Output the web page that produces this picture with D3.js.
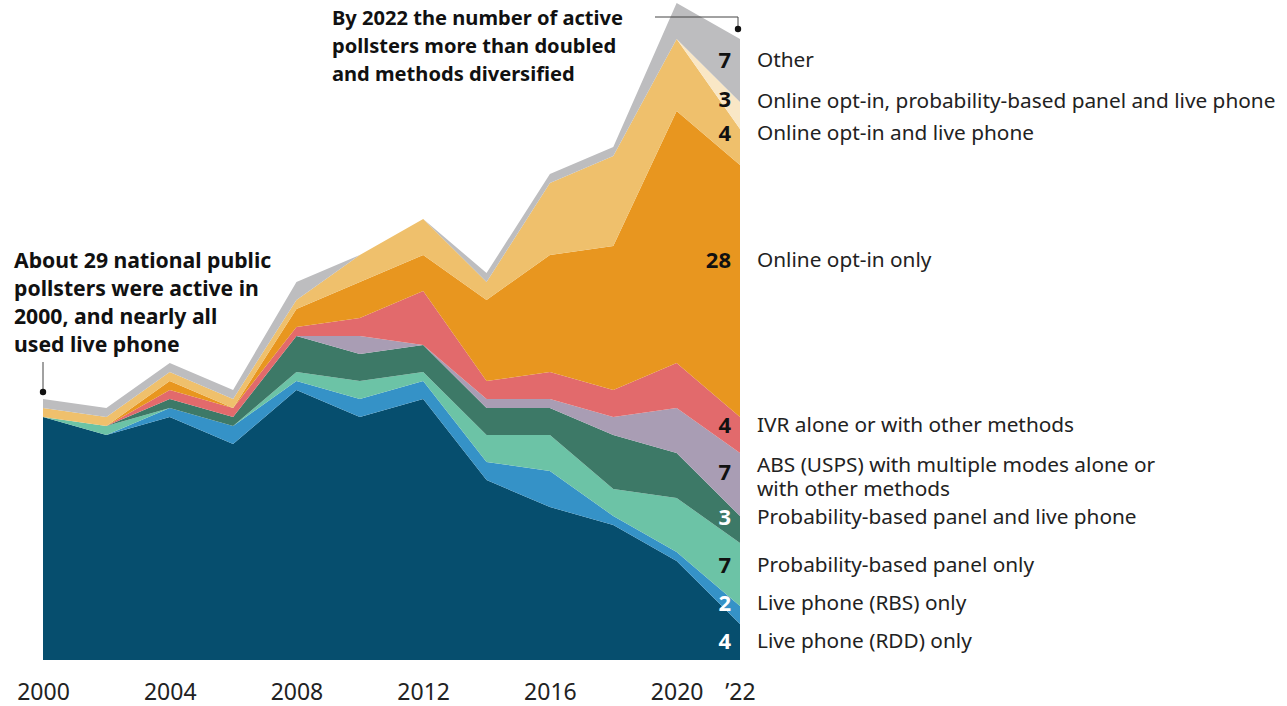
<!DOCTYPE html>
<html>
<head>
<meta charset="utf-8">
<script src="https://cdn.jsdelivr.net/npm/d3@7"></script>
<style>
  body { margin: 0; background: #fff; }
  text { font-family: 'Noto Sans', Roboto, sans-serif; }
</style>
</head>
<body>
<div class="canvas"></div>
<script>
'use strict';

const years = [2000, 2002, 2004, 2006, 2008, 2010, 2012, 2014, 2016, 2018, 2020, 2022];

// pollster counts by method, bottom layer first
const liveRDD       = [27, 25, 27, 24, 30, 27, 29, 20, 17, 15, 11, 4];
const liveRBS       = [0, 0, 1, 2, 1, 2, 2, 2, 4, 1, 1, 2];
const probPanel     = [0, 1, 0, 0, 1, 2, 1, 3, 4, 3, 6, 7];
const probPanelLive = [0, 0, 1, 1, 4, 3, 3, 3, 3, 6, 5, 3];
const absMulti      = [0, 0, 0, 0, 0, 2, 0, 1, 1, 2, 5, 7];
const ivr           = [0, 0, 1, 1, 1, 2, 6, 2, 3, 3, 5, 4];
const onlineOptIn   = [0, 0, 1, 0, 2, 4, 4, 9, 13, 16, 28, 28];
const optInLive     = [1, 1, 1, 1, 1, 3, 4, 2, 8, 10, 8, 4];
const optInProbLive = [0, 0, 0, 0, 0, 0, 0, 0, 0, 0, 0, 3];
const other         = [1, 1, 1, 1, 2, 0, 0, 1, 1, 1, 4, 7];

const tickYears = [2000, 2004, 2008, 2012, 2016, 2020, 2022];
const tickLabels = ['2000', '2004', '2008', '2012', '2016', '2020', '\u201922'];

const series = [
  { key: 'rdd', values: liveRDD, label: ['Live phone (RDD) only'], color: '#064e6e', num: '#fff' },
  { key: 'rbs', values: liveRBS, label: ['Live phone (RBS) only'], color: '#3592c7', num: '#fff' },
  { key: 'pp', values: probPanel, label: ['Probability-based panel only'], color: '#6cc3a6', num: '#111' },
  { key: 'ppl', values: probPanelLive, label: ['Probability-based panel and live phone'], color: '#3d7967', num: '#fff' },
  { key: 'abs', values: absMulti, label: ['ABS (USPS) with multiple modes alone or', 'with other methods'], color: '#a99db4', num: '#111' },
  { key: 'ivr', values: ivr, label: ['IVR alone or with other methods'], color: '#e26a6c', num: '#111' },
  { key: 'opt', values: onlineOptIn, label: ['Online opt-in only'], color: '#e8961f', num: '#111' },
  { key: 'optl', values: optInLive, label: ['Online opt-in and live phone'], color: '#efc06c', num: '#111' },
  { key: 'optpl', values: optInProbLive, label: ['Online opt-in, probability-based panel and live phone'], color: '#f9e7c6', num: '#111' },
  { key: 'other', values: other, label: ['Other'], color: '#bdbdbf', num: '#111' }
];

// label rows on the right (pixel y of the first line), bottom series first
const labelY = [641, 603, 565, 517, 465, 425, 260, 133, 101, 60];
const numberY = [641, 603, 565, 517, 472, 425, 260, 133, 99, 60];

const width = 1287;
const height = 706;

const svg = d3
  .select('.canvas')
  .append('svg')
  .attr('width', width)
  .attr('height', height);

const x = d3.scaleLinear().domain([2000, 2022]).range([43, 740]);
const y = d3.scaleLinear().domain([0, 69]).range([660, 39]);

const rows = years.map((yr, i) => {
  const row = { year: yr };
  series.forEach(s => (row[s.key] = s.values[i]));
  return row;
});

const stack = d3.stack().keys(series.map(s => s.key));
const layers = stack(rows);

const area = d3
  .area()
  .x(d => x(d.data.year))
  .y0(d => y(d[0]))
  .y1(d => y(d[1]));

svg
  .append('g')
  .selectAll('path')
  .data(layers)
  .enter()
  .append('path')
  .attr('d', area)
  .attr('fill', (d, i) => series[i].color);

// x axis labels
const xAxis = d3
  .axisBottom(x)
  .tickValues(tickYears)
  .tickSize(0)
  .tickPadding(0)
  .tickFormat((d, i) => tickLabels[i]);

const xAxisGroup = svg
  .append('g')
  .attr('transform', `translate(0, ${y(0)})`)
  .call(xAxis);
xAxisGroup.select('.domain').remove();
xAxisGroup
  .selectAll('text')
  .attr('y', 40)
  .attr('dy', 0)
  .attr('fill', '#222')
  .style('font-size', '23px')
  .style('font-family', "'Noto Sans', sans-serif");

// right side: end values and category names
const last = years.length - 1;
const labels = svg.append('g');

series.forEach((s, i) => {
  labels
    .append('text')
    .attr('x', 731)
    .attr('y', numberY[i])
    .attr('dy', '0.35em')
    .attr('text-anchor', 'end')
    .attr('fill', s.num)
    .style('font-size', '22px')
    .style('font-weight', 'bold')
    .text(s.values[last]);

  const t = labels
    .append('text')
    .attr('x', 757)
    .attr('y', labelY[i])
    .attr('fill', '#222')
    .style('font-size', '20.8px');
  s.label.forEach((line, j) => {
    t.append('tspan')
      .attr('x', 757)
      .attr('dy', j === 0 ? '0.35em' : 24)
      .text(line);
  });
});

// annotations
const noteLeft = [
  'About 29 national public',
  'pollsters were active in',
  '2000, and nearly all',
  'used live phone'
];
const noteTop = [
  'By 2022 the number of active',
  'pollsters more than doubled',
  'and methods diversified'
];

const note = (lines, nx, ny, size) => {
  const t = svg
    .append('text')
    .attr('x', nx)
    .attr('y', ny)
    .attr('fill', '#111')
    .style('font-size', size + 'px')
    .style('font-weight', 'bold');
  lines.forEach((line, i) => {
    t.append('tspan')
      .attr('x', nx)
      .attr('dy', i === 0 ? '0.35em' : 28)
      .text(line);
  });
};

note(noteLeft, 14, 261, 21.2);
note(noteTop, 332, 18, 20.1);

const leader = svg.append('g').attr('stroke', '#444').attr('fill', 'none');
leader
  .append('line')
  .attr('x1', x(2000))
  .attr('x2', x(2000))
  .attr('y1', 362)
  .attr('y2', 391);
leader
  .append('path')
  .attr('d', `M655,17H${x(2022) - 2}V28`);

svg
  .append('circle')
  .attr('cx', x(2000))
  .attr('cy', 392)
  .attr('r', 3.2)
  .attr('fill', '#111');
svg
  .append('circle')
  .attr('cx', x(2022) - 2)
  .attr('cy', 29)
  .attr('r', 3.2)
  .attr('fill', '#111');
</script>
</body>
</html>
